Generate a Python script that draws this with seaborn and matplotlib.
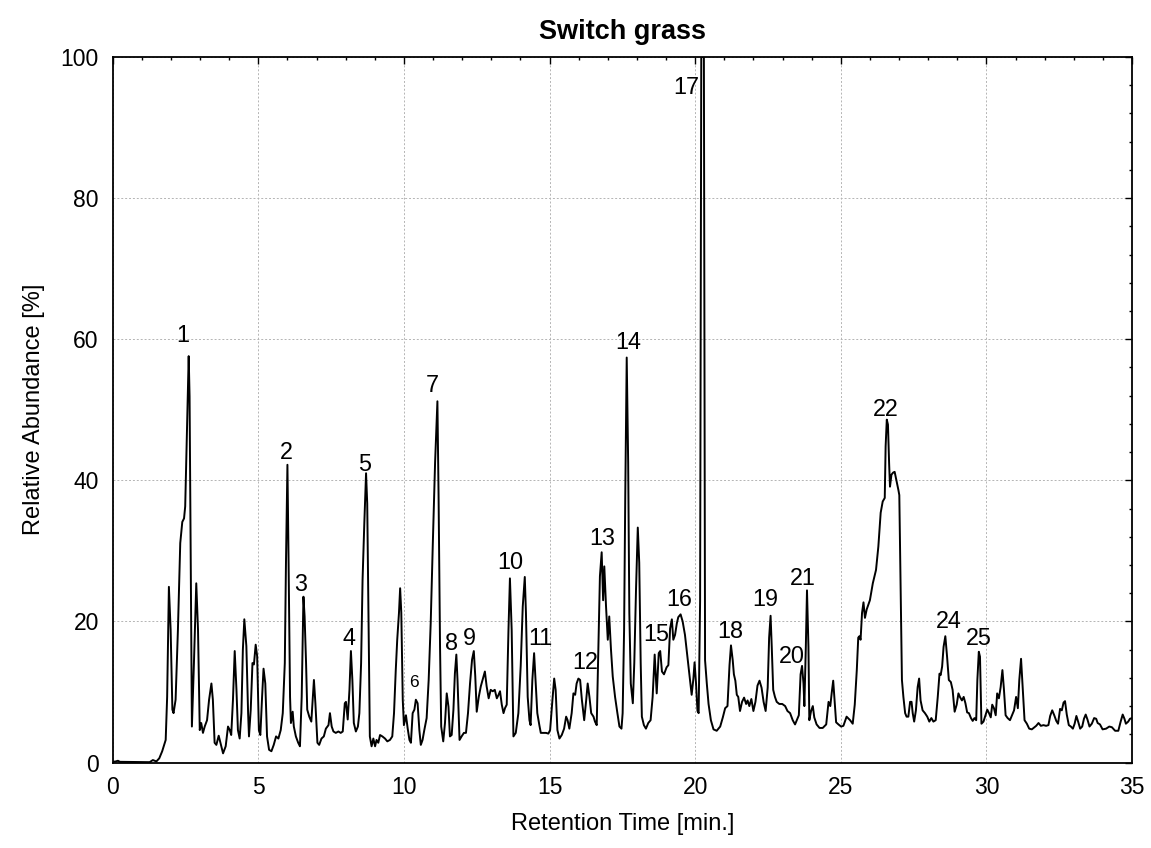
import numpy as np
import pandas as pd
import matplotlib
matplotlib.use("Agg")
import matplotlib.pyplot as plt
import seaborn as sns
from matplotlib.ticker import MultipleLocator

# ---------------- data ----------------
retention_time = [
    0.00, 0.10, 0.18, 0.25, 1.27, 1.38, 1.50, 1.60, 1.70, 1.82, 1.87, 1.93, 1.99, 2.05, 2.09,
    2.16, 2.24, 2.32, 2.39, 2.45, 2.49, 2.55, 2.61, 2.64, 2.69, 2.72, 2.79, 2.87, 2.93, 2.99,
    3.04, 3.10, 3.16, 3.24, 3.31, 3.39, 3.44, 3.50, 3.56, 3.64, 3.70, 3.79, 3.88, 3.96, 4.02,
    4.07, 4.13, 4.19, 4.25, 4.30, 4.36, 4.42, 4.47, 4.52, 4.59, 4.65, 4.68, 4.74, 4.80, 4.85,
    4.91, 4.96, 5.02, 5.07, 5.13, 5.18, 5.24, 5.30, 5.37, 5.45, 5.53, 5.61, 5.69, 5.77, 5.84,
    5.91, 5.95, 6.00, 6.04, 6.09, 6.12, 6.18, 6.22, 6.29, 6.37, 6.43, 6.49, 6.55, 6.59, 6.64,
    6.68, 6.75, 6.82, 6.86, 6.91, 6.96, 7.03, 7.09, 7.17, 7.25, 7.32, 7.41, 7.46, 7.52, 7.58,
    7.66, 7.75, 7.83, 7.90, 7.97, 8.01, 8.07, 8.13, 8.18, 8.23, 8.28, 8.35, 8.42, 8.47, 8.53,
    8.58, 8.64, 8.70, 8.74, 8.79, 8.83, 8.89, 8.95, 9.01, 9.06, 9.12, 9.18, 9.26, 9.35, 9.43,
    9.52, 9.60, 9.66, 9.72, 9.77, 9.83, 9.87, 9.91, 9.96, 10.00, 10.07, 10.13, 10.19, 10.24, 10.30,
    10.36, 10.41, 10.47, 10.53, 10.58, 10.64, 10.70, 10.78, 10.85, 10.92, 10.99, 11.07, 11.15, 11.19, 11.24,
    11.28, 11.35, 11.41, 11.47, 11.53, 11.58, 11.64, 11.70, 11.75, 11.80, 11.84, 11.91, 11.98, 12.06, 12.13,
    12.20, 12.27, 12.34, 12.40, 12.45, 12.50, 12.57, 12.64, 12.70, 12.78, 12.84, 12.91, 12.98, 13.05, 13.12,
    13.19, 13.25, 13.30, 13.36, 13.42, 13.47, 13.53, 13.59, 13.64, 13.70, 13.76, 13.84, 13.93, 14.01, 14.08,
    14.15, 14.19, 14.25, 14.31, 14.35, 14.41, 14.47, 14.53, 14.58, 14.65, 14.70, 14.79, 14.88, 14.96, 15.02,
    15.10, 15.16, 15.21, 15.27, 15.34, 15.42, 15.50, 15.57, 15.62, 15.68, 15.76, 15.82, 15.88, 15.93, 15.99,
    16.05, 16.11, 16.19, 16.26, 16.31, 16.37, 16.43, 16.51, 16.56, 16.62, 16.68, 16.73, 16.79, 16.84, 16.88,
    16.94, 17.00, 17.05, 17.11, 17.17, 17.25, 17.33, 17.40, 17.47, 17.51, 17.56, 17.60, 17.65, 17.70, 17.74,
    17.79, 17.86, 17.91, 17.97, 18.03, 18.08, 18.13, 18.17, 18.24, 18.31, 18.39, 18.47, 18.54, 18.61, 18.68,
    18.75, 18.80, 18.86, 18.93, 19.02, 19.08, 19.14, 19.20, 19.25, 19.31, 19.37, 19.42, 19.50, 19.57, 19.65,
    19.73, 19.80, 19.88, 19.94, 19.98, 20.03, 20.08, 20.12, 20.17, 20.21, 20.30, 20.34, 20.40, 20.46, 20.54,
    20.63, 20.74, 20.86, 20.95, 21.03, 21.11, 21.18, 21.23, 21.29, 21.33, 21.38, 21.43, 21.48, 21.54, 21.61,
    21.68, 21.75, 21.80, 21.86, 21.93, 22.00, 22.07, 22.14, 22.21, 22.28, 22.35, 22.42, 22.49, 22.54, 22.59,
    22.63, 22.68, 22.74, 22.80, 22.89, 22.99, 23.09, 23.17, 23.26, 23.35, 23.43, 23.49, 23.56, 23.62, 23.67,
    23.72, 23.75, 23.80, 23.84, 23.89, 23.92, 23.98, 24.04, 24.09, 24.17, 24.27, 24.38, 24.50, 24.58, 24.64,
    24.69, 24.74, 24.78, 24.84, 24.92, 25.01, 25.09, 25.20, 25.32, 25.41, 25.48, 25.55, 25.60, 25.64, 25.68,
    25.73, 25.78, 25.83, 25.89, 26.00, 26.10, 26.21, 26.29, 26.37, 26.44, 26.51, 26.54, 26.58, 26.62, 26.66,
    26.69, 26.74, 26.80, 26.85, 26.92, 26.98, 27.01, 27.06, 27.10, 27.15, 27.21, 27.26, 27.32, 27.38, 27.43,
    27.47, 27.52, 27.58, 27.64, 27.69, 27.74, 27.81, 27.89, 27.97, 28.04, 28.11, 28.18, 28.26, 28.33, 28.39,
    28.43, 28.48, 28.53, 28.59, 28.65, 28.71, 28.78, 28.84, 28.91, 28.98, 29.04, 29.09, 29.16, 29.22, 29.28,
    29.34, 29.40, 29.47, 29.53, 29.59, 29.65, 29.69, 29.74, 29.78, 29.83, 29.90, 29.97, 30.03, 30.09, 30.15,
    30.20, 30.26, 30.32, 30.37, 30.43, 30.49, 30.55, 30.60, 30.66, 30.73, 30.81, 30.88, 30.95, 31.02, 31.08,
    31.13, 31.19, 31.25, 31.31, 31.39, 31.47, 31.56, 31.65, 31.71, 31.79, 31.87, 31.96, 32.05, 32.13, 32.19,
    32.26, 32.33, 32.40, 32.46, 32.53, 32.59, 32.65, 32.70, 32.76, 32.83, 32.90, 32.97, 33.03, 33.09, 33.15,
    33.22, 33.29, 33.35, 33.41, 33.47, 33.54, 33.62, 33.70, 33.77, 33.82, 33.90, 33.99, 34.11, 34.22, 34.31,
    34.42, 34.53, 34.61, 34.68, 34.74, 34.79, 34.87, 34.93, 35.00,
]
abundance = [
    0.1, 0.15, 0.25, 0.1, 0.05, 0.35, 0.15, 0.6, 1.6, 3.2, 9.3, 24.9, 18.8, 7.5, 7.0,
    8.9, 18.8, 31.1, 34.1, 34.6, 36.3, 47.2, 57.6, 51.9, 23.5, 5.1, 14.1, 25.4, 18.8, 4.6,
    5.6, 4.2, 5.1, 6.0, 8.9, 11.2, 8.9, 2.8, 2.5, 3.8, 2.8, 1.3, 2.3, 5.1, 4.6,
    3.9, 8.9, 15.8, 10.3, 4.6, 3.4, 7.0, 16.0, 20.3, 16.5, 7.0, 3.7, 7.5, 14.1, 13.9,
    16.7, 15.1, 4.6, 3.9, 9.3, 13.3, 11.2, 3.7, 1.8, 1.6, 2.5, 3.7, 3.4, 4.6, 7.0,
    14.1, 28.3, 42.2, 28.3, 9.3, 5.6, 7.2, 5.1, 3.7, 2.8, 2.3, 9.3, 23.5, 20.7, 14.1,
    7.5, 6.5, 5.8, 8.4, 11.7, 8.4, 2.8, 2.5, 3.4, 3.7, 4.8, 5.3, 7.0, 5.1, 4.4,
    4.2, 4.4, 4.2, 4.4, 8.4, 8.6, 6.1, 10.3, 15.8, 11.7, 5.6, 4.4, 5.1, 7.0, 14.1,
    25.9, 33.9, 41.0, 36.7, 18.8, 3.7, 2.3, 3.4, 2.3, 3.2, 2.8, 3.9, 3.7, 3.4, 3.0,
    3.2, 3.7, 7.0, 13.1, 17.4, 21.2, 24.7, 21.2, 8.9, 5.3, 6.7, 4.8, 3.2, 2.8, 7.0,
    7.5, 8.9, 8.4, 4.6, 2.5, 3.2, 4.6, 6.3, 11.7, 19.8, 30.7, 42.5, 51.2, 37.8, 16.5,
    5.1, 3.0, 5.6, 9.8, 7.9, 3.7, 3.9, 7.5, 12.6, 15.3, 11.7, 3.2, 3.7, 4.2, 4.2,
    7.0, 11.2, 14.6, 15.8, 12.2, 7.2, 9.3, 10.8, 11.7, 12.9, 10.8, 9.1, 10.3, 10.1, 10.3,
    9.1, 9.6, 10.1, 8.2, 7.0, 7.7, 8.2, 18.8, 26.1, 18.8, 3.7, 4.2, 7.0, 13.7, 22.1,
    26.3, 21.2, 9.3, 6.0, 5.3, 11.7, 15.5, 10.8, 7.0, 5.3, 4.2, 4.2, 4.2, 4.1, 4.6,
    8.9, 11.9, 10.3, 4.6, 3.4, 3.9, 4.8, 6.5, 6.0, 4.8, 7.0, 9.8, 9.6, 11.2, 11.9,
    11.7, 8.9, 6.0, 8.9, 11.2, 9.3, 7.0, 6.5, 5.8, 5.3, 16.5, 26.4, 29.8, 23.0, 27.8,
    22.1, 17.4, 20.7, 16.0, 12.2, 9.3, 7.0, 5.1, 4.8, 7.0, 18.8, 37.8, 57.4, 42.5, 21.2,
    11.2, 8.4, 14.1, 24.6, 33.3, 28.3, 14.1, 6.5, 5.3, 4.8, 5.6, 6.0, 9.3, 15.3, 9.8,
    15.5, 15.8, 12.9, 12.5, 13.5, 13.8, 19.0, 20.3, 17.4, 18.1, 19.7, 20.6, 21.0, 20.0, 18.1,
    15.1, 12.5, 9.6, 11.9, 14.2, 11.2, 7.3, 7.0, 22.9, 100.0, 100.0, 14.5, 11.2, 8.3, 6.0,
    4.7, 4.5, 5.1, 6.4, 7.7, 8.0, 13.8, 16.6, 14.5, 12.5, 11.6, 9.6, 9.3, 7.3, 8.6,
    9.2, 8.3, 8.8, 8.0, 9.0, 7.3, 8.6, 10.9, 11.6, 10.6, 8.6, 7.3, 10.6, 17.7, 20.8,
    16.4, 10.3, 9.3, 8.6, 8.3, 8.3, 8.0, 7.3, 7.0, 6.0, 5.4, 6.0, 6.7, 12.5, 13.7,
    11.2, 8.0, 16.4, 24.4, 16.4, 6.0, 7.3, 8.0, 6.4, 5.4, 4.9, 4.9, 5.4, 8.6, 8.0,
    9.9, 11.6, 9.3, 5.7, 5.4, 5.1, 5.2, 6.5, 6.0, 5.5, 8.2, 13.1, 17.7, 17.9, 17.4,
    21.2, 22.7, 20.5, 21.7, 23.0, 25.4, 27.3, 30.6, 35.4, 37.0, 37.5, 44.8, 48.6, 47.9, 42.4,
    39.1, 40.8, 41.1, 41.2, 39.8, 38.6, 37.9, 23.5, 11.7, 9.3, 7.0, 6.5, 6.5, 8.6, 8.6,
    7.0, 5.8, 7.4, 10.7, 11.9, 8.8, 7.4, 7.0, 6.5, 5.8, 6.3, 5.8, 6.0, 9.3, 12.6,
    12.4, 13.6, 16.4, 17.9, 15.0, 11.7, 11.4, 10.3, 7.2, 8.2, 9.8, 9.3, 8.8, 9.3, 8.4,
    7.1, 7.0, 6.3, 5.9, 6.3, 6.0, 11.7, 15.7, 15.0, 5.5, 5.8, 6.7, 7.5, 7.0, 6.4,
    8.2, 7.7, 6.7, 9.8, 9.1, 10.7, 13.1, 10.5, 6.7, 6.3, 6.0, 6.7, 7.4, 9.3, 7.7,
    11.7, 14.7, 10.3, 6.0, 5.5, 4.8, 4.7, 5.0, 5.2, 5.6, 5.2, 5.3, 5.2, 5.3, 6.6,
    7.4, 6.7, 5.9, 5.5, 7.6, 7.4, 8.5, 8.7, 6.8, 5.3, 5.1, 4.8, 5.5, 6.6, 5.8,
    4.8, 5.1, 6.2, 6.8, 6.1, 5.1, 5.5, 6.3, 6.2, 5.6, 5.4, 4.7, 4.8, 5.1, 5.0,
    4.5, 4.5, 5.8, 6.8, 6.2, 5.5, 5.8, 6.2, 6.3,
]

peak_labels = ["1", "2", "3", "4", "5", "6", "7", "8", "9", "10", "11", "12", "13",
               "14", "15", "16", "17", "18", "19", "20", "21", "22", "24", "25"]
peak_label_time = [2.41, 5.96, 6.46, 8.11, 8.66, 10.35, 10.98, 11.64, 12.25, 13.64, 14.67,
                   16.22, 16.81, 17.71, 18.66, 19.46, 19.70, 21.22, 22.40, 23.32, 23.69,
                   26.55, 28.70, 29.73]
peak_label_abundance = [60.5, 43.9, 25.2, 17.6, 42.2, 11.3, 53.5, 16.9, 17.6, 28.3, 17.6,
                        14.2, 31.7, 59.5, 18.2, 23.1, 95.7, 18.6, 23.1, 15.0, 26.1,
                        50.0, 20.0, 17.6]

x_ticks = [0, 5, 10, 15, 20, 25, 30, 35]
y_ticks = [0, 20, 40, 60, 80, 100]

# ---------------- styling ----------------
sns.set_style("white")
plt.rcParams['font.family'] = ['Liberation Sans', 'DejaVu Sans']

fig = plt.figure(figsize=(11.51, 8.48), dpi=100)
ax = fig.add_axes([0.0979, 0.1008, 0.8856, 0.8320])

df = pd.DataFrame({"Retention Time [min.]": retention_time,
                   "Relative Abundance [%]": abundance})
sns.lineplot(data=df, x="Retention Time [min.]", y="Relative Abundance [%]",
             ax=ax, color="black", linewidth=1.4, sort=False, estimator=None)

ax.set_xlim(0, 35)
ax.set_ylim(0, 100)
ax.set_xticks(x_ticks)
ax.set_yticks(y_ticks)
ax.xaxis.set_minor_locator(MultipleLocator(1))
ax.yaxis.set_minor_locator(MultipleLocator(4))

ax.set_axisbelow(True)
ax.grid(True, which="major", linestyle=(0, (2, 2)), color="#b4b4b4", linewidth=0.7)

ax.tick_params(which="both", direction="in", top=True, right=True,
               color="black", width=1.0, labelsize=16.5, labelcolor="black")
ax.tick_params(which="major", length=5)
ax.tick_params(which="minor", length=2.5)
ax.tick_params(axis="x", which="major", pad=10)
ax.tick_params(axis="y", which="major", pad=10)

for s in ax.spines.values():
    s.set_visible(True)
    s.set_color("black")
    s.set_linewidth(1.3)

ax.set_xlabel("Retention Time [min.]", fontsize=17, labelpad=10, color="black")
ax.set_ylabel("Relative Abundance [%]", fontsize=17, labelpad=11, color="black")
ax.set_title("Switch grass", fontsize=19.5, fontweight="bold", pad=13, color="black")

for lab, tx, ty in zip(peak_labels, peak_label_time, peak_label_abundance):
    size = 12.5 if lab == "6" else 16.8
    ax.text(tx, ty, lab, ha="center", va="center", fontsize=size, color="black")

fig.savefig("out.png", dpi=100)
